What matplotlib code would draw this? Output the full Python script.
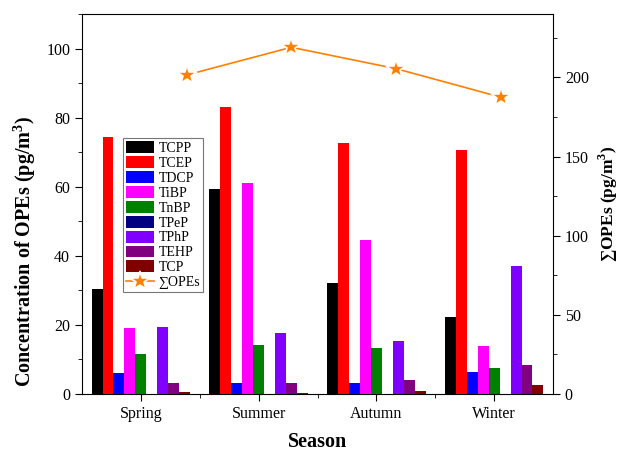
import matplotlib
matplotlib.use("Agg")
import matplotlib.pyplot as plt
import numpy as np
from matplotlib.ticker import MultipleLocator

plt.rcParams['font.family'] = ['Liberation Serif', 'DejaVu Serif']
plt.rcParams['mathtext.fontset'] = 'custom'
plt.rcParams['mathtext.rm'] = 'Liberation Serif'
plt.rcParams['mathtext.bf'] = 'Liberation Serif:bold'

seasons = ["Spring", "Summer", "Autumn", "Winter"]
compounds = ["TCPP", "TCEP", "TDCP", "TiBP", "TnBP", "TPeP", "TPhP", "TEHP", "TCP"]
colors = ["#000000", "#ff0000", "#0000ff", "#ff00ff", "#008000",
          "#000080", "#8000ff", "#800080", "#800000"]

TCPP = [30.5, 59.3, 32.2, 22.3]
TCEP = [74.5, 83.0, 72.8, 70.5]
TDCP = [6.0, 3.3, 3.2, 6.5]
TiBP = [19.0, 61.0, 44.5, 14.0]
TnBP = [11.5, 14.3, 13.2, 7.6]
TPeP = [0.0, 0.0, 0.0, 0.0]
TPhP = [19.3, 17.8, 15.4, 37.0]
TEHP = [3.3, 3.3, 4.0, 8.5]
TCP = [0.6, 0.2, 1.0, 2.5]
sum_opes = [201.5, 219.0, 205.5, 187.5]

data = [TCPP, TCEP, TDCP, TiBP, TnBP, TPeP, TPhP, TEHP, TCP]

fig = plt.figure(figsize=(6.25, 4.53), dpi=100)
pos = [0.1312, 0.1302, 0.7536, 0.8388]
ax = fig.add_axes(pos)

x = np.arange(1, len(seasons) + 1)
w = 0.093
handles = []
for i, (name, vals) in enumerate(zip(compounds, data)):
    b = ax.bar(x + (i - 4) * w, vals, w, color=colors[i], label=name)
    handles.append(b)

ax.set_xlim(0.5, 4.5)
ax.set_ylim(0, 110)
ax.set_xticks(x)
ax.set_xticklabels(seasons, fontsize=11.5)
ax.set_xticks(x[:-1] + 0.5, minor=True)
ax.yaxis.set_major_locator(MultipleLocator(20))
ax.yaxis.set_minor_locator(MultipleLocator(10))
ax.tick_params(axis='both', which='major', direction='out', length=5, labelsize=11.5)
ax.tick_params(axis='both', which='minor', direction='out', length=3)
ax.set_xlabel("Season", fontsize=14.5, fontweight='bold', labelpad=7)
ax.set_ylabel(r"Concentration of OPEs (pg/m$^\mathbf{3}$)", fontsize=14.5,
              fontweight='bold')
ax.yaxis.set_label_coords(-0.093, 0.375)

# the sum line sits on its own axes with a different x scale
ax2 = fig.add_axes(pos, frameon=False)
ax2.patch.set_visible(False)
line, = ax2.plot(x, sum_opes, color="#ff8000", lw=1.2, marker='*', ms=15,
                 mec='white', mew=1.2, label="∑OPEs")
ax2.set_xlim(0, 4.5)
ax2.set_ylim(0, 240)
ax2.xaxis.set_visible(False)
ax2.yaxis.tick_right()
ax2.yaxis.set_label_position('right')
ax2.yaxis.set_major_locator(MultipleLocator(50))
ax2.yaxis.set_minor_locator(MultipleLocator(25))
ax2.tick_params(axis='y', which='major', direction='out', length=5, labelsize=11.5)
ax2.tick_params(axis='y', which='minor', direction='out', length=3)
ax2.set_ylabel(r"∑OPEs (pg/m$^\mathbf{3}$)", fontsize=12.5, fontweight='bold',
               labelpad=6)

leg = ax.legend(handles + [line], compounds + ["∑OPEs"], loc='upper left',
                bbox_to_anchor=(0.087, 0.674), fontsize=10, frameon=True,
                fancybox=False, edgecolor='#555555', handlelength=2.0,
                handleheight=0.95, labelspacing=0.08, borderpad=0.25,
                handletextpad=0.3, borderaxespad=0)
leg.get_frame().set_linewidth(0.8)
ax.set_zorder(ax2.get_zorder() + 1)
ax.patch.set_visible(False)

fig.savefig("out.png", dpi=100)
